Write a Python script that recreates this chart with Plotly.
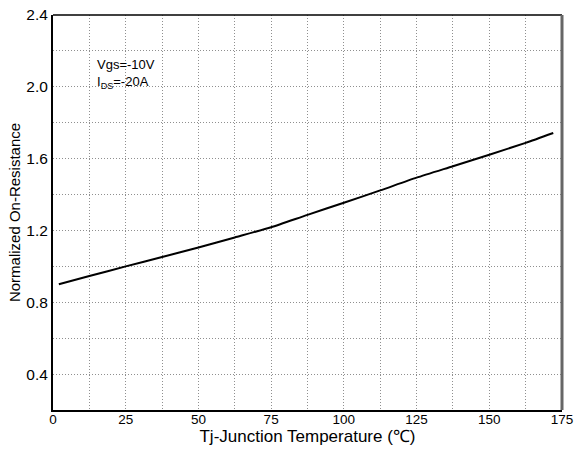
import plotly.graph_objects as go

temps = [2, 12.5, 25, 37.5, 50, 62.5, 75, 87.5, 100, 112.5, 125, 137.5, 150, 162.5, 172]
rds_norm = [0.90, 0.946, 1.0, 1.052, 1.105, 1.161, 1.218, 1.287, 1.354, 1.423, 1.494, 1.558, 1.622, 1.688, 1.743]
x_ticks = [0, 25, 50, 75, 100, 125, 150, 175]
y_ticks = [0.4, 0.8, 1.2, 1.6, 2.0, 2.4]
y_tick_text = ["0.4", "0.8", "1.2", "1.6", "2.0", "2.4"]

fig = go.Figure()
fig.add_trace(go.Scatter(x=temps, y=rds_norm, mode="lines",
                         line=dict(color="black", width=2, shape="spline", smoothing=0.6),
                         showlegend=False, hoverinfo="skip"))

grid = dict(showgrid=True, gridcolor="#8f8f8f", griddash="1px,2px", gridwidth=1)

fig.update_layout(
    width=576, height=453,
    margin=dict(l=53, r=14, t=15, b=43),
    paper_bgcolor="white", plot_bgcolor="white",
    font=dict(family="Liberation Sans, Arial", size=13, color="black"),
    xaxis=dict(range=[0, 175], tickvals=x_ticks, ticks="", zeroline=False, automargin=False,
               showline=True, linecolor="black", linewidth=2, ticklabelstandoff=-4,
               minor=dict(dtick=12.5, tick0=0, **grid), **grid,
               title=dict(text="Tj-Junction Temperature (℃)", font=dict(size=17), standoff=0),
               tickfont=dict(size=13.5)),
    yaxis=dict(range=[0.2, 2.4], tickvals=y_ticks, ticktext=y_tick_text, ticks="",
               zeroline=False, showline=True, linecolor="black", linewidth=2, automargin=False,
               minor=dict(dtick=0.2, tick0=0.2, **grid), **grid,
               title=dict(text="Normalized On-Resistance", font=dict(size=15), standoff=2),
               tickfont=dict(size=15.5)),
    shapes=[
        dict(type="line", xref="paper", yref="paper", x0=0, x1=1, y0=1, y1=1, layer="above",
             line=dict(color="black", width=1.5)),
        dict(type="line", xref="paper", yref="paper", x0=1, x1=1, y0=0, y1=1, layer="above",
             line=dict(color="#666666", width=3)),
    ],
    annotations=[
        dict(x=14.3, y=2.18, xref="x", yref="y", xanchor="left", yanchor="top",
             text="Vgs=-10V<br>I<sub>DS</sub>=-20A", showarrow=False, align="left",
             font=dict(size=13, color="black")),
    ],
)

fig.write_html("out.html", config={"displayModeBar": False},
               post_script="document.body.style.margin='0';document.body.style.overflow='hidden';")
